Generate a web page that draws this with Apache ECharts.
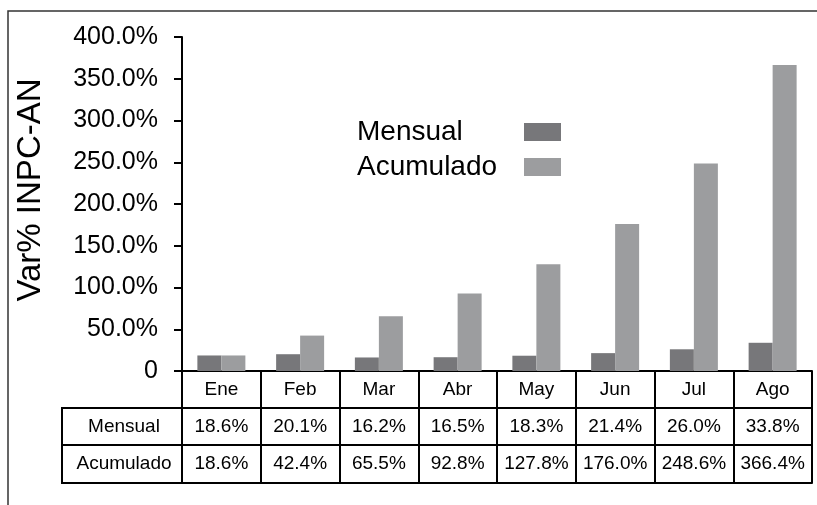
<!DOCTYPE html>
<html>
<head>
<meta charset="utf-8">
<script src="https://cdn.jsdelivr.net/npm/echarts@6/dist/echarts.min.js"></script>
<style>
  html, body { margin: 0; padding: 0; background: #fff; }
  #chart { width: 817px; height: 505px; }
</style>
</head>
<body>
<div id="chart"></div>
<script>
// datos
var meses = ['Ene', 'Feb', 'Mar', 'Abr', 'May', 'Jun', 'Jul', 'Ago'];
var mensual = [18.6, 20.1, 16.2, 16.5, 18.3, 21.4, 26.0, 33.8];
var acumulado = [18.6, 42.4, 65.5, 92.8, 127.8, 176.0, 248.6, 366.4];
var rowNames = ['Mensual', 'Acumulado'];

var font = 'Liberation Sans, Arial, sans-serif';
var pct = function (v) { return v.toFixed(1) + '%'; };

// geometria de la tabla (px)
var gridLeft = 182, gridTop = 37, axisY = 371, rowH = 37, tableLeft = 62;

var chart = echarts.init(document.getElementById('chart'));

function tableAxis(data, offset, showLabel, showTick) {
  return {
    type: 'category',
    data: data,
    position: 'bottom',
    offset: offset,
    axisLine: { show: true, lineStyle: { color: '#000', width: 2 } },
    axisTick: { show: showTick, interval: 0, length: rowH + 1, lineStyle: { color: '#000', width: 2 } },
    axisLabel: { show: showLabel, interval: 0, margin: 9, fontSize: 19, color: '#000', fontFamily: font },
    splitLine: { show: false }
  };
}

var option = {
  backgroundColor: '#fff',
  animation: false,
  grid: { left: gridLeft, right: 5, top: gridTop, bottom: 505 - axisY, containLabel: false },
  legend: {
    orient: 'vertical',
    left: 352,
    top: 113,
    align: 'right',
    icon: 'rect',
    itemWidth: 37,
    itemHeight: 18,
    itemGap: 7,
    formatter: '{t|{name}}',
    textStyle: {
      rich: { t: { fontSize: 28, color: '#000', fontFamily: font, width: 162, align: 'left' } }
    },
    data: ['Mensual', 'Acumulado']
  },
  xAxis: [
    tableAxis(meses, 0, true, true),
    tableAxis(mensual.map(pct), rowH, true, true),
    tableAxis(acumulado.map(pct), rowH * 2, true, true),
    tableAxis(meses.map(function () { return ''; }), rowH * 3 + 1, false, false)
  ],
  yAxis: {
    type: 'value',
    min: 0,
    max: 400,
    interval: 50,
    axisLine: { show: true, lineStyle: { color: '#000', width: 2 } },
    axisTick: { show: true, length: 8, lineStyle: { color: '#000', width: 2 } },
    axisLabel: {
      margin: 24,
      fontSize: 25,
      color: '#000',
      fontFamily: font,
      formatter: function (v) { return v === 0 ? '0' : v.toFixed(1) + '%'; }
    },
    splitLine: { show: false }
  },
  graphic: [
    {
      type: 'rect',
      shape: { x: 8, y: 11, width: 900, height: 600 },
      style: { fill: 'none', stroke: '#333', lineWidth: 1.5 },
      z: -1
    },
    {
      type: 'text',
      x: 31, y: 190,
      rotation: Math.PI / 2,
      style: { text: 'Var% INPC-AN', fontSize: 33, fill: '#000', fontFamily: font, align: 'center', verticalAlign: 'middle' }
    },
    // columna de nombres de fila
    {
      type: 'polyline',
      shape: { points: [[gridLeft, axisY + rowH], [tableLeft, axisY + rowH], [tableLeft, axisY + rowH * 3 + 1], [gridLeft, axisY + rowH * 3 + 1]] },
      style: { stroke: '#000', lineWidth: 2, fill: 'none' }
    },
    {
      type: 'line',
      shape: { x1: tableLeft, y1: axisY + rowH * 2, x2: gridLeft, y2: axisY + rowH * 2 },
      style: { stroke: '#000', lineWidth: 2 }
    }
  ].concat(rowNames.map(function (n, i) {
    return {
      type: 'text',
      x: (tableLeft + gridLeft) / 2 + 2,
      y: axisY + rowH * (i + 1.5),
      style: { text: n, fontSize: 19, fill: '#000', fontFamily: font, align: 'center', verticalAlign: 'middle' }
    };
  })),
  series: [
    {
      name: 'Mensual',
      type: 'bar',
      data: mensual,
      barWidth: 24,
      barGap: '0%',
      itemStyle: { color: '#77777a' }
    },
    {
      name: 'Acumulado',
      type: 'bar',
      data: acumulado,
      barWidth: 24,
      itemStyle: { color: '#9c9d9f' }
    }
  ]
};

chart.setOption(option);
</script>
</body>
</html>
